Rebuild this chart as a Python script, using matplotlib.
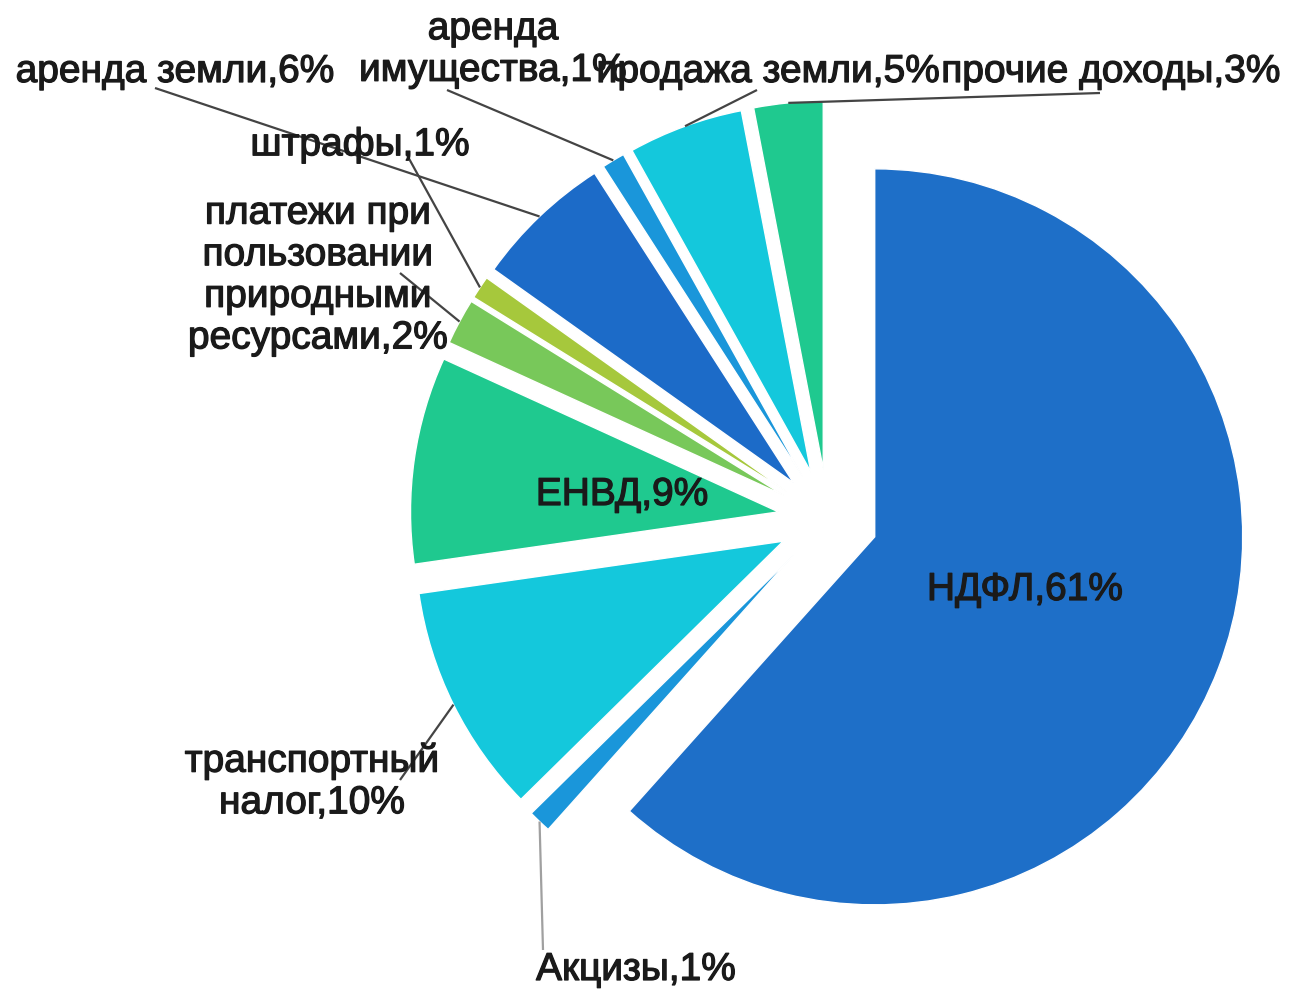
import numpy as np
import matplotlib
matplotlib.use("Agg")
import matplotlib.pyplot as plt
import matplotlib.patheffects as pe

plt.rcParams['font.family'] = ['Liberation Sans', 'DejaVu Sans']

#-------- данные --------------
labels = ["НДФЛ", "Акцизы", "транспортный\nналог", "ЕНВД",
          "платежи при\nпользовании\nприродными\nресурсами", "штрафы",
          "аренда земли", "аренда\nимущества", "продажа земли", "прочие доходы"]
shares = [61, 1, 10, 9, 2, 1, 6, 1, 5, 3]
colors = ["#1E6FC8", "#1A96DA", "#14C8DC", "#1FC98F", "#78C85A",
          "#A6C83C", "#1C6BC8", "#1A96DA", "#14C8DC", "#1FC98F"]

# положение подписей (пиксели) и начало выносной линии (None - внутри сектора)
label_pos = [(1025, 590), (636, 970), (312, 782), (622, 495), (318, 276),
             (360, 145), (175, 72), (493, 50), (768, 72), (1111, 72)]
leader_start = [None, (543, 950), (400, 780), None, (400, 273),
                (407, 155), (155, 88), (447, 90), (757, 90), (1100, 93)]
leader_color = ["#444444"] * 10
leader_color[1] = "#a0a0a0"

W, H = 1296, 991
fig = plt.figure(figsize=(W / 100, H / 100), dpi=100)
ax = fig.add_axes([0, 0, 1, 1])

cx, cy, R = 828, 519, 368
expl = 50  # смещение секторов, пиксели
wedges, _ = ax.pie(shares, center=(cx, cy), radius=R, explode=[expl] * len(shares),
                   startangle=-90, counterclock=True, colors=colors,
                   wedgeprops=dict(edgecolor='white', linewidth=1))
ax.set_xlim(0, W)
ax.set_ylim(H, 0)
ax.set_aspect('equal')
ax.axis('off')

thick = [pe.withStroke(linewidth=0.9, foreground='#1a1a1a')]
for i, w in enumerate(wedges):
    mid = np.deg2rad((w.theta1 + w.theta2) / 2)
    wx, wy = w.center
    px = wx + R * np.cos(mid)
    py = wy + R * np.sin(mid)
    text = f"{labels[i]},{shares[i]}%"
    ax.text(label_pos[i][0], label_pos[i][1], text, ha='center', va='center',
            fontsize=28, color='#1a1a1a', linespacing=1.2, path_effects=thick)
    if leader_start[i] is not None:
        sx, sy = leader_start[i]
        ax.plot([sx, px], [sy, py], color=leader_color[i], lw=1.6,
                solid_capstyle='butt')

fig.savefig("out.png", dpi=100)
plt.close(fig)
